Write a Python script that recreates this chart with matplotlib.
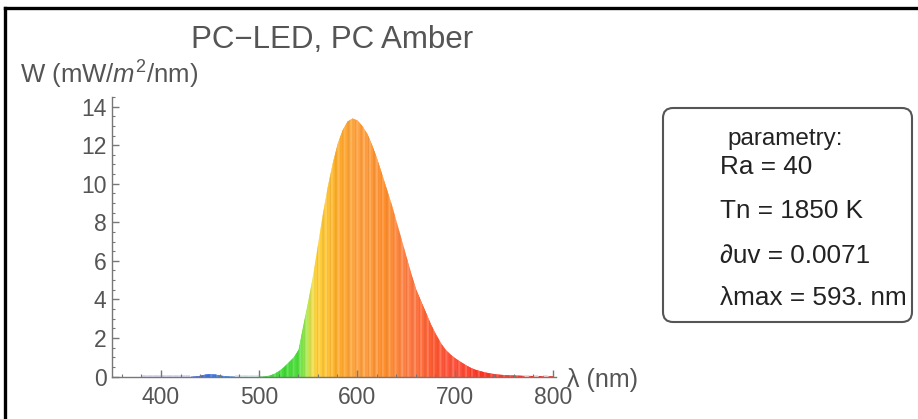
import numpy as np
import matplotlib
matplotlib.use("Agg")
import matplotlib.pyplot as plt
from matplotlib.patches import FancyBboxPatch
from matplotlib.lines import Line2D
from matplotlib.colors import to_rgb
from matplotlib.ticker import MultipleLocator

plt.rcParams['font.family'] = ['Liberation Sans', 'DejaVu Sans']
plt.rcParams['mathtext.fontset'] = 'custom'
plt.rcParams['mathtext.rm'] = 'Liberation Sans'
plt.rcParams['mathtext.it'] = 'Liberation Sans:italic'

# ---- data ----
wavelength = [380, 385, 390, 395, 400, 405, 410, 415, 420, 425, 430, 435,
              440, 445, 450, 455, 460, 465, 470, 475, 480, 485, 490, 495,
              500, 505, 510, 515, 520, 525, 530, 535, 540, 545, 550, 555,
              560, 565, 570, 575, 580, 585, 590, 595, 600, 605, 610, 615,
              620, 625, 630, 635, 640, 645, 650, 655, 660, 665, 670, 675,
              680, 685, 690, 695, 700, 705, 710, 715, 720, 725, 730, 735,
              740, 745, 750, 755, 760, 765, 770, 775, 780, 785, 790, 795, 800]
power = [0, 0, 0, 0, 0, 0, 0, 0, 0, 0, 0, 0.01,
         0.06, 0.12, 0.14, 0.12, 0.07, 0.03, 0.01, 0, 0, 0, 0, 0,
         0.0, 0.02, 0.06, 0.15, 0.3, 0.5, 0.75, 1.0, 1.4, 2.7, 3.95, 5.3,
         6.9, 8.5, 9.9, 11.1, 12.1, 12.8, 13.25, 13.4, 13.3, 13.0, 12.6, 12.0,
         11.3, 10.5, 9.7, 8.9, 8.0, 7.1, 6.2, 5.3, 4.5, 3.9, 3.3, 2.7,
         2.2, 1.75, 1.4, 1.15, 0.95, 0.78, 0.62, 0.48, 0.37, 0.3, 0.23, 0.18,
         0.14, 0.11, 0.09, 0.08, 0.07, 0.06, 0.05, 0.05, 0.04, 0.04, 0.03, 0.03, 0.02]

color_nm = [380, 430, 470, 495, 505, 540, 548, 553, 558, 570, 585, 600, 630, 650, 670, 690, 720, 800]
color_hex = ["#6040d0", "#3050e0", "#3080e0", "#30b0a0", "#40d840", "#44dd30", "#a0e840",
             "#e8e040", "#ffcc28", "#ffc030", "#ffa424", "#ff9a30", "#ff8e2c", "#ff7434",
             "#ff6030", "#ff4a2c", "#ff3420", "#ff2414"]

title = "PC\u2212LED, PC Amber"
ylabel = "W (mW/$m^2$/nm)"
xlabel = "\u03bb (nm)"
params_title = "parametry:"
params = ["Ra = 40", "Tn = 1850 K", "\u2202uv = 0.0071", "\u03bbmax = 593. nm"]
xticks = [400, 500, 600, 700, 800]
yticks = [0, 2, 4, 6, 8, 10, 12, 14]

# ---- figure ----
W, H = 918, 419
fig = plt.figure(figsize=(W / 100, H / 100), dpi=100)
ax = fig.add_axes([112 / W, 1 - 376.5 / H, (556 - 112) / W, (376.5 - 97) / H])

gray = "#555555"
axc = "#777777"

# spectral fill with fine stripes
x_fine = np.arange(380, 800.01, 1.0)
y_fine = np.interp(x_fine, wavelength, power)
crgb = np.array([to_rgb(c) for c in color_hex])
shade = [1.0, 1.0, 0.94, 0.94, 1.0, 1.06, 1.06, 0.97, 1.0, 1.0, 0.93, 1.05, 1.05]
for i in range(len(x_fine) - 1):
    xm = x_fine[i] + 0.5
    rgb = np.array([np.interp(xm, color_nm, crgb[:, k]) for k in range(3)])
    f = shade[i % len(shade)]
    if f >= 1:
        rgb = rgb + (1 - rgb) * (f - 1) * 3
    else:
        rgb = rgb * f
    rgb = np.clip(rgb, 0, 1)
    ax.fill_between(x_fine[i:i + 2], 0, y_fine[i:i + 2], color=rgb, linewidth=0.3,
                    edgecolor=rgb)

ax.set_xlim(350, 803)
ax.set_ylim(0, 14.5)
for s in ["top", "right"]:
    ax.spines[s].set_visible(False)
for s in ["left", "bottom"]:
    ax.spines[s].set_color(axc)
    ax.spines[s].set_linewidth(1.0)

ax.set_xticks(xticks)
ax.set_yticks(yticks)
ax.xaxis.set_minor_locator(MultipleLocator(20))
ax.yaxis.set_minor_locator(MultipleLocator(0.5))
ax.tick_params(which="major", direction="in", length=5, width=1, color=axc,
               labelsize=16.5, labelcolor=gray)
ax.tick_params(which="minor", direction="in", length=2.5, width=0.8, color=axc)
ax.tick_params(axis="x", which="major", pad=7)
ax.tick_params(axis="y", which="major", pad=4)

fig.text(332 / W, 1 - 48 / H, title, ha="center", va="baseline", fontsize=22.5, color=gray)
fig.text(20 / W, 1 - 84 / H, ylabel, ha="left", va="baseline", fontsize=18.5, color=gray)
fig.text(567 / W, 1 - 387 / H, xlabel, ha="left", va="baseline", fontsize=18, color=gray)

# parameter box (pixel-sized rounded corners via inch transform)
box = FancyBboxPatch((663 / 100, (H - 322) / 100), (912 - 663) / 100, (322 - 108) / 100,
                     boxstyle="round,pad=0,rounding_size=0.1", transform=fig.dpi_scale_trans,
                     facecolor="white", edgecolor="#555555", linewidth=1.5)
fig.patches.append(box)
fig.text(727 / W, 1 - 145 / H, params_title, ha="left", va="baseline", fontsize=17.5, color="#222222")
ys = [174, 218, 263, 305]
for t, yy in zip(params, ys):
    fig.text(720 / W, 1 - yy / H, t, ha="left", va="baseline", fontsize=18.8, color="#222222")

# outer frame (top and left black lines)
fig.add_artist(Line2D([5 / W, 1.0], [1 - 8 / H, 1 - 8 / H], color="black", linewidth=2.4,
                      transform=fig.transFigure))
fig.add_artist(Line2D([5 / W, 5 / W], [0, 1 - 8 / H], color="black", linewidth=2.4,
                      transform=fig.transFigure))

fig.savefig("out.png", dpi=100)
